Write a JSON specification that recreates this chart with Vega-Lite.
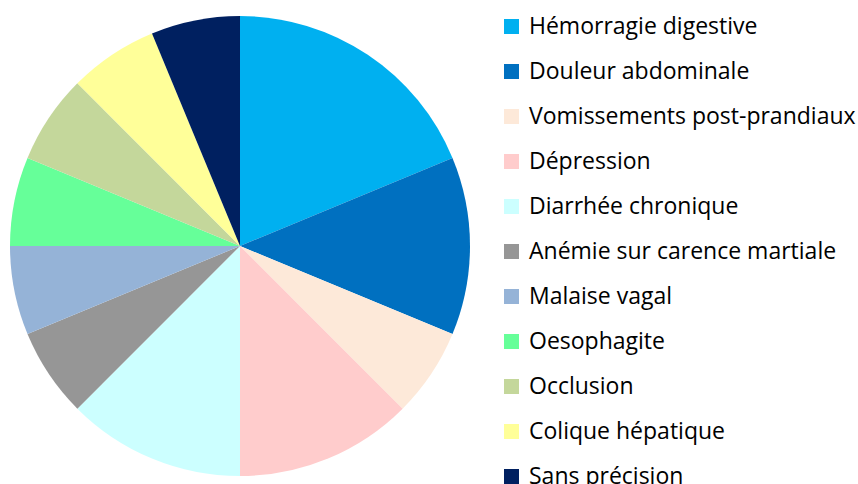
{
  "$schema": "https://vega.github.io/schema/vega-lite/v6.json",
  "autosize": "none",
  "padding": {"left": 10, "top": 16, "right": 388, "bottom": 8},
  "width": 460,
  "height": 460,
  "background": "white",
  "data": {
    "values": [
      {"cat": "Hémorragie digestive", "n": 3, "o": 1},
      {"cat": "Douleur abdominale", "n": 2, "o": 2},
      {"cat": "Vomissements post-prandiaux", "n": 1, "o": 3},
      {"cat": "Dépression", "n": 2, "o": 4},
      {"cat": "Diarrhée chronique", "n": 2, "o": 5},
      {"cat": "Anémie sur carence martiale", "n": 1, "o": 6},
      {"cat": "Malaise vagal", "n": 1, "o": 7},
      {"cat": "Oesophagite", "n": 1, "o": 8},
      {"cat": "Occlusion", "n": 1, "o": 9},
      {"cat": "Colique hépatique", "n": 1, "o": 10},
      {"cat": "Sans précision", "n": 1, "o": 11}
    ]
  },
  "mark": {"type": "arc", "radius": 230},
  "encoding": {
    "theta": {"field": "n", "type": "quantitative", "stack": true},
    "order": {"field": "o", "type": "quantitative"},
    "color": {
      "field": "cat",
      "type": "nominal",
      "sort": null,
      "scale": {
        "domain": ["Hémorragie digestive", "Douleur abdominale", "Vomissements post-prandiaux", "Dépression", "Diarrhée chronique", "Anémie sur carence martiale", "Malaise vagal", "Oesophagite", "Occlusion", "Colique hépatique", "Sans précision"],
        "range": ["#00B0F0", "#0070C0", "#FDE9D9", "#FFCCCC", "#CCFFFF", "#969696", "#95B3D7", "#66FF99", "#C4D79B", "#FFFF99", "#002060"]
      },
      "legend": {
        "title": null,
        "orient": "none",
        "legendX": 490,
        "legendY": -1,
        "padding": 0,
        "symbolType": "square",
        "symbolSize": 225,
        "symbolStrokeWidth": 0,
        "symbolOpacity": 1,
        "symbolOffset": 0,
        "labelFont": "Open Sans",
        "labelFontSize": 23,
        "labelColor": "#000000",
        "labelOffset": 6,
        "labelLimit": 400,
        "rowPadding": 21
      }
    }
  },
  "config": {"view": {"stroke": null}}
}
